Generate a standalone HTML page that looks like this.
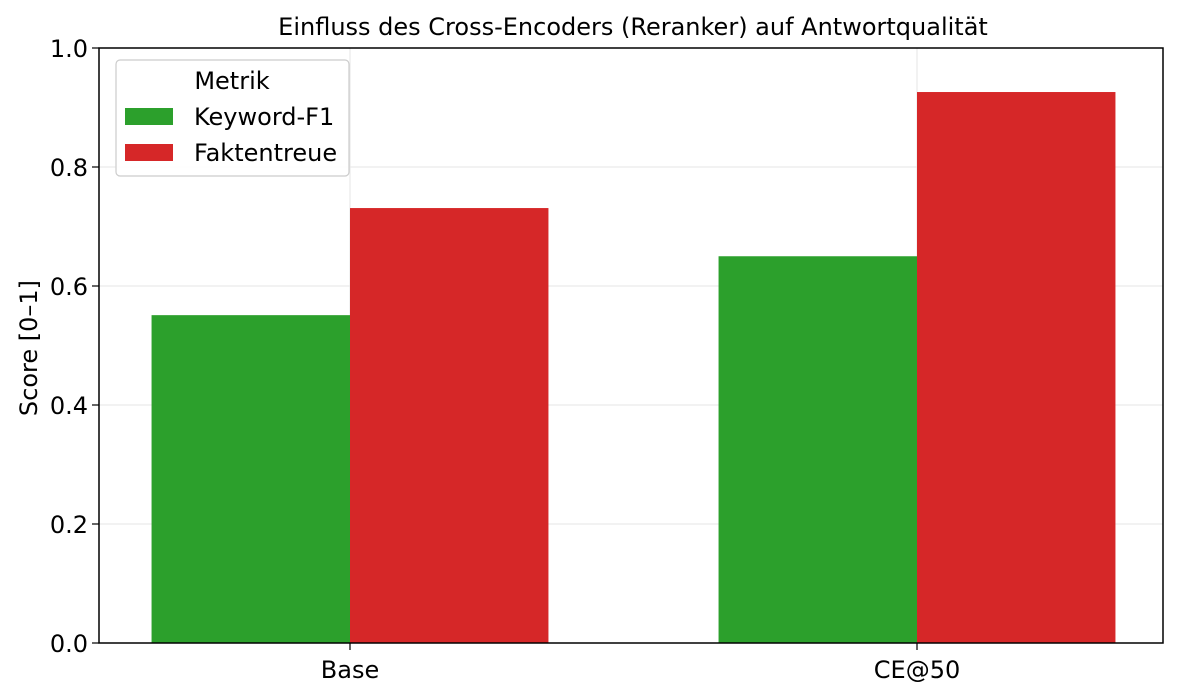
<!DOCTYPE html>
<html><head><meta charset="utf-8"><style>
html,body{margin:0;padding:0;background:#fff;}
svg{display:block;font-family:"DejaVu Sans",sans-serif;}
</style></head><body>
<svg id="chart" width="1179" height="699" viewBox="0 0 1179 699">
<rect width="1179" height="699" fill="#fff"/>
<g id="grid"></g>
<g id="bars"></g>
<rect x="99" y="48" width="1064" height="595" fill="none" stroke="#000" stroke-width="1.5"/>
<g id="axes"></g>
<text x="633" y="35" text-anchor="middle" font-size="24">Einfluss des Cross-Encoders (Reranker) auf Antwortqualität</text>
<text transform="translate(37,348) rotate(-90)" text-anchor="middle" font-size="24">Score [0–1]</text>
<g>
<rect x="116" y="60" width="233" height="116" rx="4" fill="#fff" fill-opacity="0.85" stroke="#ccc" stroke-width="1.2"/>
<text x="232" y="89" text-anchor="middle" font-size="24">Metrik</text>
<rect x="125" y="108" width="48" height="17" fill="#2ca02c"/>
<text x="194" y="125" font-size="24">Keyword-F1</text>
<rect x="125" y="144" width="48" height="17" fill="#d62728"/>
<text x="194" y="161" font-size="24">Faktentreue</text>
</g>
</svg>
<script>
const categories = ["Base", "CE@50"];
const keywordF1 = [0.551, 0.650];
const faktentreue = [0.731, 0.926];
const yTicks = [0.0, 0.2, 0.4, 0.6, 0.8, 1.0];
const NS = "http://www.w3.org/2000/svg";
const xScale = i => 350 + i * 567;
const bw = 0.35 * 567;
const yScale = v => 643 - v * 595;
function mk(tag, attrs, parent) {
  const el = document.createElementNS(NS, tag);
  for (const k in attrs) el.setAttribute(k, attrs[k]);
  parent.appendChild(el);
  return el;
}
const grid = document.getElementById("grid");
const bars = document.getElementById("bars");
const axes = document.getElementById("axes");
yTicks.forEach(t => {
  const y = yScale(t);
  const g = mk("line", {x1: 99, x2: 1163, y1: y, y2: y, stroke: "#e6e6e6", "stroke-width": 1}, grid);
  
  
  const tk = mk("line", {x1: 92, x2: 99, y1: y, y2: y, stroke: "#000", "stroke-width": 1.2}, axes);
  
  
  const tx = mk("text", {x: 88, y: y + 9, "text-anchor": "end", "font-size": 24}, axes);
  tx.textContent = t.toFixed(1);
  
  
});
categories.forEach((c, i) => {
  const x = xScale(i);
  const g = mk("line", {x1: x, x2: x, y1: 48, y2: 643, stroke: "#e6e6e6", "stroke-width": 1}, grid);
  
  
  const b1 = mk("rect", {x: x - bw, y: yScale(keywordF1[i]), width: bw, height: yScale(0) - yScale(keywordF1[i]), fill: "#2ca02c"}, bars);
  
  
  const b2 = mk("rect", {x: x, y: yScale(faktentreue[i]), width: bw, height: yScale(0) - yScale(faktentreue[i]), fill: "#d62728"}, bars);
  
  
  const tk = mk("line", {x1: x, x2: x, y1: 643, y2: 650, stroke: "#000", "stroke-width": 1.2}, axes);
  
  
  const tx = mk("text", {x: x, y: 678, "text-anchor": "middle", "font-size": 24}, axes);
  tx.textContent = c;
  
  
});
</script>
</body></html>
